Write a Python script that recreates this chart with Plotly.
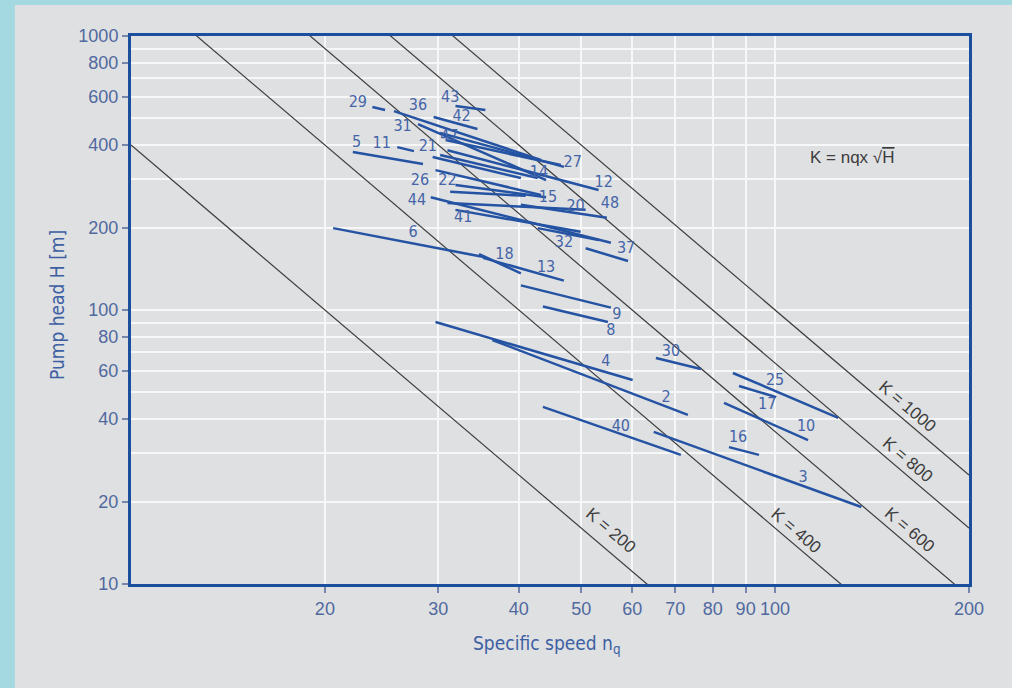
import numpy as np
import plotly.graph_objects as go

# Pump series: id, start point (nq, H), end point (nq, H), label anchor (nq, H)
series_ids = ["29", "36", "43", "42", "31", "47", "27", "5", "11", "21",
              "14", "12", "26", "22", "15", "20", "48", "44", "41", "32",
              "37", "6", "18", "13", "9", "8", "4", "30", "2", "40",
              "3", "16", "25", "17", "10"]
nq_from = [23.7, 25.6, 31.9, 29.5, 27.9, 30.8, 30.2, 22.1, 25.9, 29.4,
           30.2, 31.0, 29.7, 31.3, 31.9, 31.0, 40.3, 29.2, 31.9, 42.8,
           50.8, 20.6, 34.7, 35.2, 40.3, 43.6, 29.7, 65.3, 36.4, 43.6,
           64.8, 84.8, 86.0, 87.9, 83.3]
h_from = [551, 532, 555, 506, 477, 417, 443, 377, 393, 362,
          368, 383, 324, 270, 286, 246, 242, 258, 232, 199,
          168, 199, 160, 155, 123, 103, 90.4, 66.8, 77.7, 44.3,
          35.9, 31.6, 58.9, 52.8, 45.8]
nq_to = [24.8, 43.3, 35.5, 34.5, 44.1, 46.5, 47.0, 28.4, 27.5, 40.3,
         42.8, 53.2, 43.3, 41.0, 44.1, 50.8, 54.8, 55.6, 49.9, 53.2,
         59.1, 35.3, 40.3, 47.0, 55.6, 55.0, 60.1, 76.7, 73.2, 71.4,
         136.1, 94.4, 125.3, 100.4, 112.5]
h_to = [537, 353, 537, 458, 298, 338, 333, 341, 380, 303,
        303, 274, 263, 261, 258, 232, 217, 176, 193, 180,
        151, 156, 136, 128, 102, 90.4, 55.5, 60.9, 41.4, 29.6,
        19.1, 29.6, 40.4, 48.1, 33.5]
label_nq = [22.5, 27.9, 31.3, 32.6, 26.4, 31.2, 48.5, 22.4, 24.5, 28.9,
            43.0, 54.2, 28.1, 31.0, 44.4, 49.0, 55.4, 27.8, 32.8, 47.0,
            58.7, 27.4, 38.0, 44.1, 56.8, 55.6, 54.6, 68.9, 67.7, 57.6,
            110.5, 87.6, 100.0, 97.2, 111.7]
label_h = [569, 555, 594, 506, 466, 428, 344, 407, 404, 393,
           316, 291, 295, 295, 256, 238, 244, 250, 217, 176,
           167, 191, 159, 142, 95.9, 83.8, 64.6, 70.3, 47.7, 37.4,
           24.4, 34.1, 55.1, 45.0, 37.4]

# Lines of constant K = nq * sqrt(H)
k_values = [200, 400, 600, 800, 1000]
k_label_nq = [53.4, 104.8, 157.0, 156.0, 156.0]
k_label_gap = [17, 12, 12, 12, 12]   # px between line and label centre

x_ticks = [20, 30, 40, 50, 60, 70, 80, 90, 100, 200]
y_ticks = [10, 20, 40, 60, 80, 100, 200, 400, 600, 800, 1000]
y_minor_grid = [30, 50, 70, 90, 300, 500, 700, 900]

NARROW = "Liberation Sans Narrow, Arial Narrow, DejaVu Sans Condensed, Liberation Sans, sans-serif"
REGULAR = "Liberation Sans, Arial, sans-serif"
FRAME_BLUE = "#1c4e9e"
SERIES_BLUE = "#2553a3"
LABEL_BLUE = "#4565a8"
TICK_BLUE = "#50699e"
K_GREY = "#3c3c3c"
PANEL_GREY = "#dfe0e2"

fig = go.Figure()

# constant-K lines
nq_span = np.array([10.0, 200.0])
for k in k_values:
    fig.add_trace(go.Scatter(
        x=nq_span, y=(k / nq_span) ** 2, mode="lines",
        line=dict(color=K_GREY, width=1.2),
        hoverinfo="skip", showlegend=False))

# pump series segments
seg_x, seg_y = [], []
for a, b, c, d in zip(nq_from, h_from, nq_to, h_to):
    seg_x += [a, c, None]
    seg_y += [b, d, None]
fig.add_trace(go.Scatter(
    x=seg_x, y=seg_y, mode="lines",
    line=dict(color=SERIES_BLUE, width=2.5),
    hoverinfo="skip", showlegend=False))

# series numbers
fig.add_trace(go.Scatter(
    x=label_nq, y=label_h, mode="text", text=series_ids,
    textposition="middle center",
    textfont=dict(family=NARROW, size=16, color=LABEL_BLUE),
    hoverinfo="skip", showlegend=False))

annotations = []
# K labels along their lines, offset perpendicular to the line
slope = np.arctan(2 * 274 / 643.4)
angle = float(np.degrees(slope))
for k, nq, gap in zip(k_values, k_label_nq, k_label_gap):
    annotations.append(dict(
        x=np.log10(nq), y=np.log10((k / nq) ** 2), xref="x", yref="y",
        text=f"K = {k}", showarrow=False, textangle=angle,
        xshift=gap * np.sin(slope), yshift=gap * np.cos(slope),
        font=dict(family=REGULAR, size=17, color=K_GREY)))

# formula
annotations.append(dict(
    x=np.log10(131.8), y=np.log10(359), xref="x", yref="y",
    text="K = nqx √<span style='text-decoration:overline'>H</span>",
    showarrow=False, font=dict(family=REGULAR, size=17, color=K_GREY)))

# axis titles
annotations.append(dict(
    x=0.497, y=-0.111, xref="paper", yref="paper",
    xanchor="center", yanchor="middle",
    text="Specific speed n<sub>q</sub>", showarrow=False,
    font=dict(family=NARROW, size=19, color="#3d5fa3")))
annotations.append(dict(
    x=-0.0884, y=0.509, xref="paper", yref="paper",
    xanchor="center", yanchor="middle",
    text="Pump head H [m]", showarrow=False, textangle=-90,
    font=dict(family=NARROW, size=19, color="#3d5fa3")))

# water-coloured border strips outside the grey panel
shapes = [
    dict(type="rect", xref="paper", yref="paper",
         x0=-0.1565, x1=-0.1386, y0=-0.1898, y1=1.0657,
         fillcolor="#a4d9e2", line=dict(width=0), layer="below"),
    dict(type="rect", xref="paper", yref="paper",
         x0=-0.1565, x1=1.0526, y0=1.0566, y1=1.0657,
         fillcolor="#a4d9e2", line=dict(width=0), layer="below"),
]

axis_common = dict(
    type="log", showgrid=True, gridcolor="#f7f7f7", gridwidth=1.6,
    showline=True, linecolor=FRAME_BLUE, linewidth=3, mirror=True,
    ticks="outside", ticklen=6, tickwidth=1.5, tickcolor="#7486ab",
    zeroline=False,
    tickfont=dict(family=REGULAR, size=18, color=TICK_BLUE),
)

fig.update_layout(
    width=1012, height=688,
    margin=dict(l=131, r=43, t=36, b=104),
    paper_bgcolor=PANEL_GREY, plot_bgcolor=PANEL_GREY,
    showlegend=False,
    xaxis=dict(axis_common, range=[1, np.log10(200)],
               tickvals=x_ticks, ticktext=[str(v) for v in x_ticks]),
    yaxis=dict(axis_common, range=[1, 3],
               tickvals=y_ticks, ticktext=[str(v) for v in y_ticks],
               minor=dict(tickvals=y_minor_grid, showgrid=True,
                          gridcolor="#f7f7f7", gridwidth=1.6, ticks="")),
    annotations=annotations,
    shapes=shapes,
)

fig.write_html("out.html")
